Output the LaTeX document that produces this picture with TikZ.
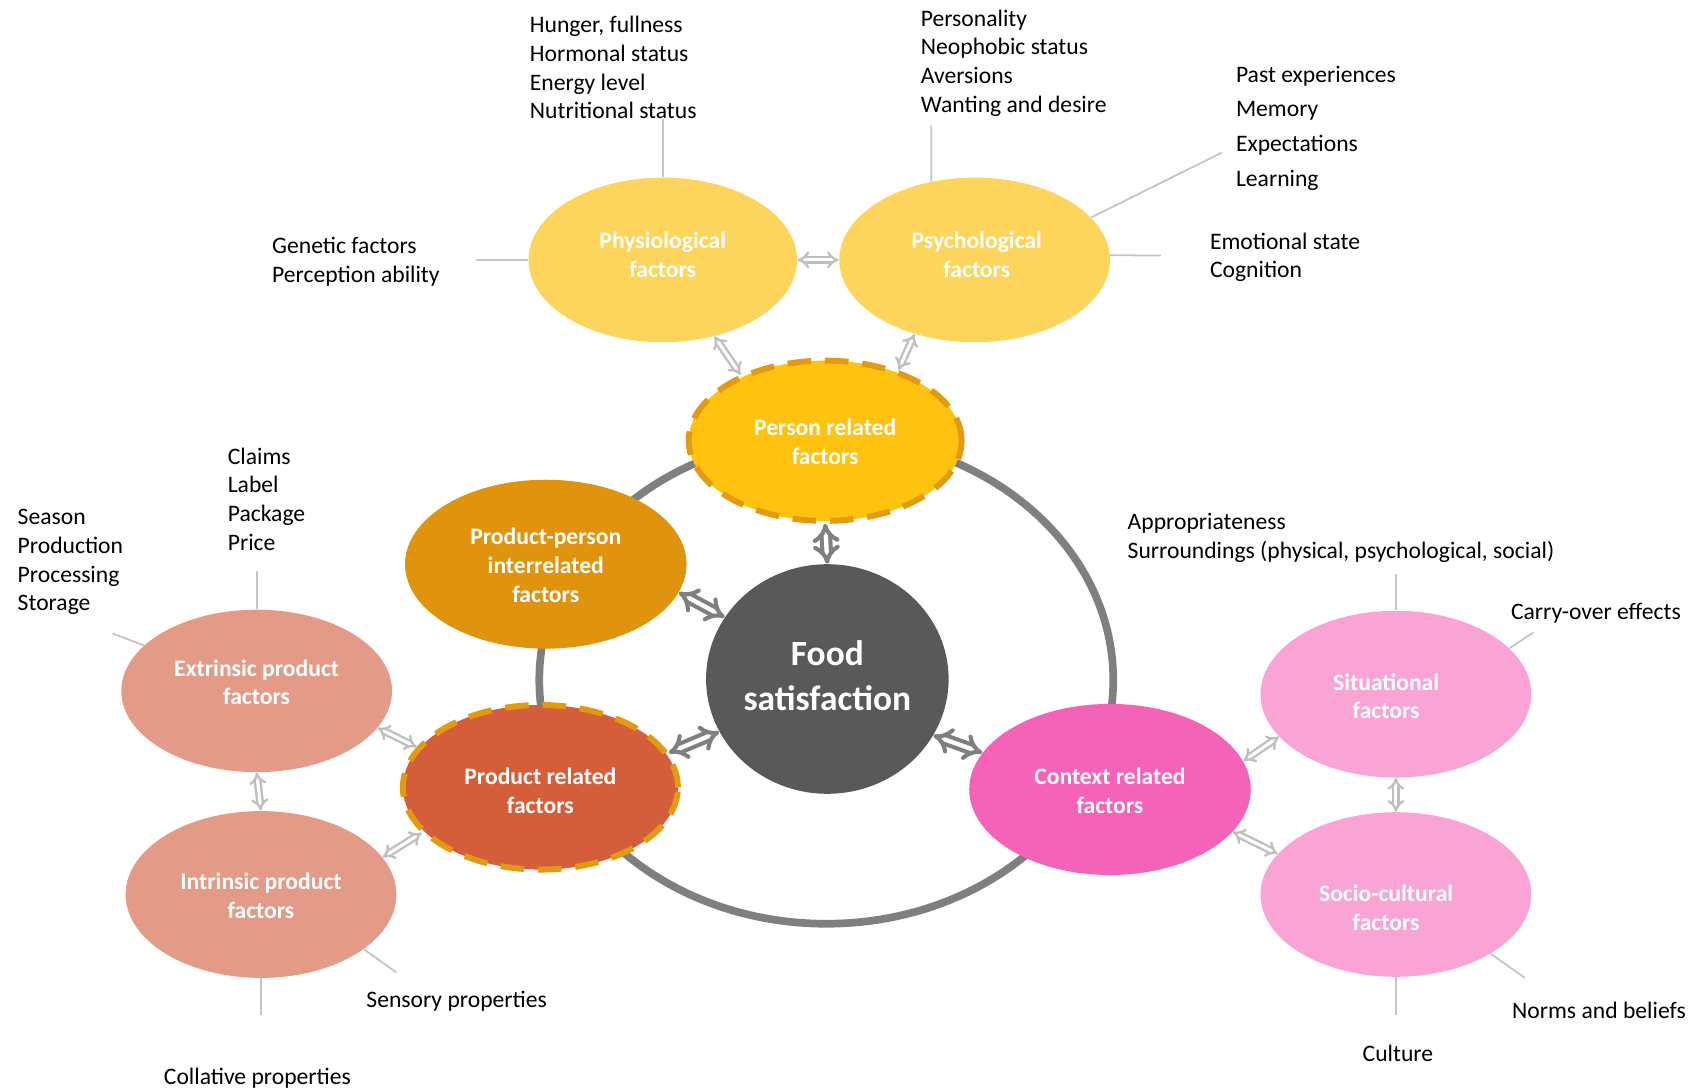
\documentclass[tikz,border=0pt]{standalone}
\usepackage{fontspec}
\setmainfont{Carlito}
\usetikzlibrary{shapes.geometric,arrows.meta,calc}
\definecolor{physcol}{HTML}{FDD55C}
\definecolor{personcol}{HTML}{FFC20E}
\definecolor{dashcol}{HTML}{E29A12}
\definecolor{ppcol}{HTML}{E0940E}
\definecolor{prodcol}{HTML}{D55E3A}
\definecolor{foodcol}{HTML}{595959}
\definecolor{ctxcol}{HTML}{F563B8}
\definecolor{sitcol}{HTML}{F9A4D4}
\definecolor{extcol}{HTML}{E39A86}
\definecolor{ringcol}{HTML}{7F7F7F}
\definecolor{thincol}{HTML}{C4C4C4}
\definecolor{arrlight}{HTML}{BFBFBF}
\definecolor{arrdark}{HTML}{7F7F7F}
\begin{document}
\begin{tikzpicture}[x=0.55pt, y=-0.55pt,
  ell/.style n args={3}{ellipse, fill=#3, minimum width=#1*0.55pt, minimum height=#2*0.55pt,
     inner sep=0pt},
  wt/.style={inner sep=0pt, text=white, font=\bfseries\fontsize{12}{14.6}\selectfont, align=center},
  dashb/.style={draw=dashcol, line width=3pt, dash pattern=on 12pt off 7pt},
  lbl/.style={anchor=north west, inner sep=0pt, align=left, text=black,
     font=\fontsize{12}{14.6}\selectfont},
  thinl/.style={draw=thincol, line width=0.9pt},
  ring/.style={draw=ringcol, line width=3.9pt},
  lightarr/.style={draw=arrlight, double=white, line width=1.2pt, double distance=1.6pt, {Implies[scale=1.4]}-{Implies[scale=1.4]}},
  darkarr/.style={draw=arrdark, double=white, line width=2.1pt, double distance=2.2pt, {Implies[scale=1.3]}-{Implies[scale=1.3]}}
]
\useasboundingbox (0,0) rectangle (1568,1006);

% ring
\draw[ring] (763,628) ellipse [x radius=145.75pt, y radius=123.75pt];

% ellipses
\node[ell={248}{152}{physcol}] (phys) at (612,240) {};
\node[ell={250}{152}{physcol}] (psych) at (900,240) {};
\node[ell={252}{148}{personcol}, dashb] (person) at (762,407) {};
\node[ell={260}{156}{ppcol}] (pp) at (504,521) {};
\node[ell={224}{212}{foodcol}] (food) at (764,627) {};
\node[ell={254}{152}{prodcol}, dashb] (prod) at (499,727) {};
\node[ell={260}{158}{ctxcol}] (ctx) at (1025,729) {};
\node[ell={250}{150}{extcol}] (ext) at (237,638) {};
\node[ell={250}{154}{extcol}] (intr) at (241,826) {};
\node[ell={250}{154}{sitcol}] (sit) at (1289,641) {};
\node[ell={250}{152}{sitcol}] (socio) at (1289,826) {};

% ellipse texts
\node[wt] (physT) at ($(phys)+(0,-4.5)$) {Physiological\\factors};
\node[wt] (psychT) at ($(psych)+(2,-4.5)$) {Psychological\\factors};
\node[wt] (personT) at ($(person)+(0,1)$) {Person related\\factors};
\node[wt] (ppT) at ($(pp)+(0,1)$) {Product-person\\interrelated\\factors};
\node[wt, font=\bfseries\fontsize{18}{22.5}\selectfont] (foodT) at ($(food)+(0,-3)$) {Food\\satisfaction};
\node[wt] (prodT) at ($(prod)+(0,3)$) {Product related\\factors};
\node[wt] (ctxT) at ($(ctx)+(0,1)$) {Context related\\factors};
\node[wt] (extT) at ($(ext)+(0,-8)$) {Extrinsic product\\factors};
\node[wt] (intrT) at ($(intr)+(0,1)$) {Intrinsic product\\factors};
\node[wt] (sitT) at ($(sit)+(-9,2)$) {Situational\\factors};
\node[wt] (socioT) at ($(socio)+(-9,12)$) {Socio-cultural\\factors};

% labels
\node[lbl] (hunger) at (489,14.5) {Hunger, fullness\\Hormonal status\\Energy level\\Nutritional status};
\node[lbl] (personality) at (850,8.5) {Personality\\Neophobic status\\Aversions\\Wanting and desire};
\node[lbl, font=\fontsize{12}{17.6}\selectfont] (past) at (1141,60.5) {Past experiences\\Memory\\Expectations\\Learning};
\node[lbl] (genetic) at (251,218.5) {Genetic factors\\Perception ability};
\node[lbl] (emotional) at (1117,214.5) {Emotional state\\Cognition};
\node[lbl] (claims) at (210,413) {Claims\\Label\\Package\\Price};
\node[lbl] (season) at (16,470) {Season\\Production\\Processing\\Storage};
\node[lbl] (approp) at (1041,474) {Appropriateness\\Surroundings (physical, psychological, social)};
\node[lbl] (carry) at (1395,557) {Carry-over effects};
\node[lbl] (sensory) at (338,915) {Sensory properties};
\node[lbl] (collative) at (151,986) {Collative properties};
\node[lbl] (culture) at (1258,965) {Culture};
\node[lbl] (norms) at (1396,925) {Norms and beliefs};

% free ends of thin lines
\coordinate (physup) at (612,110);
\coordinate (physlt) at (440,240);
\coordinate (psychup) at (860,116);
\coordinate (psychdg) at (1128,141);
\coordinate (psychrt) at (1072,236);
\coordinate (extup) at (237,527);
\coordinate (extul) at (104,585);
\coordinate (intrdn) at (241,937);
\coordinate (intrdr) at (366,898);
\coordinate (situp) at (1289,530);
\coordinate (situr) at (1416,584);
\coordinate (sociodr) at (1408,903);
\coordinate (sociodn) at (1289,937);

\draw[thinl] (phys.north) -- (physup);
\draw[thinl] (phys.west) -- (physlt);
\draw[thinl] (psych.119) -- (psychup);
\draw[thinl] (psych.20) -- (psychdg);
\draw[thinl] (psych.2) -- (psychrt);
\draw[thinl] (ext.north) -- (extup);
\draw[thinl] (ext.158) -- (extul);
\draw[thinl] (intr.south) -- (intrdn);
\draw[thinl] (intr.-28) -- (intrdr);
\draw[thinl] (sit.north) -- (situp);
\draw[thinl] (sit.22) -- (situr);
\draw[thinl] (socio.-32) -- (sociodr);
\draw[thinl] (socio.south) -- (sociodn);

% light arrows
\draw[lightarr] (phys.east) -- (psych.west);
\draw[lightarr] (phys.-56) -- (person.142);
\draw[lightarr] (psych.-129) -- (person.44);
\draw[lightarr] (ext.-17) -- (prod.162);
\draw[lightarr] (intr.17) -- (prod.-159);
\draw[lightarr] (ext.south) -- (intr.north);
\draw[lightarr] (ctx.12) -- (sit.-160);
\draw[lightarr] (ctx.-19) -- (socio.161);
\draw[lightarr] (sit.south) -- (socio.north);

% dark arrows
\draw[darkarr] (person.south) -- (food.north);
\draw[darkarr] (pp.-12) -- (food.149);
\draw[darkarr] (prod.15) -- (food.-154);
\draw[darkarr] (food.-28) -- (ctx.164);
\end{tikzpicture}
\end{document}
